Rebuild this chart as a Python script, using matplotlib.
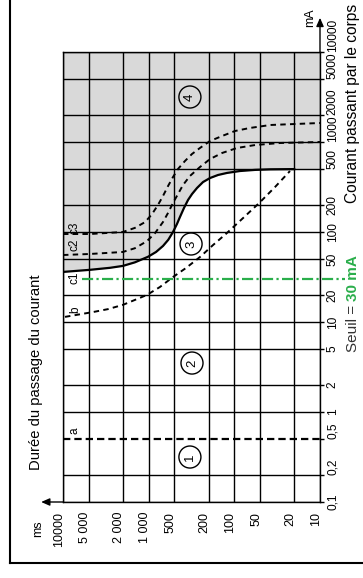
import matplotlib
matplotlib.use('Agg')
import matplotlib.pyplot as plt
from matplotlib.transforms import ScaledTranslation
from matplotlib.lines import Line2D
from matplotlib.ticker import NullLocator

plt.rcParams['font.family'] = ['Liberation Sans', 'DejaVu Sans']

# ---------------- data ----------------
time_ticks = [10000, 5000, 2000, 1000, 500, 200, 100, 50, 20, 10]
time_labels = ['10000', '5 000', '2 000', '1 000', '500', '200', '100', '50', '20', '10']
current_ticks = [0.1, 0.2, 0.5, 1, 2, 5, 10, 20, 50, 100, 200, 500, 1000, 2000, 5000, 10000]
current_labels = ['0,1', '0,2', '0,5', '1', '2', '5', '10', '20', '50', '100', '200',
                  '500', '1000', '2000', '5000', '10000']

a_current = 0.5
b_time = [9475, 4467, 2985, 2000, 1445, 1047, 738, 520, 367, 252, 177, 122, 79, 50, 33.5, 22.4]
b_current = [11.4, 12.9, 13.9, 15.5, 17.6, 20, 24.5, 31.6, 39.8, 52.7, 71.7, 97.5, 143, 215, 316, 476]
c1_time = [10000, 4840, 2830, 2000, 1450, 1020, 820, 680, 590, 520, 467, 431, 387, 347,
           312, 273, 232, 192, 155, 122, 86, 57, 38, 20]
c1_current = [36, 38, 40, 42, 46, 53, 60, 70, 82, 100, 123, 147, 185, 227,
              264, 308, 359, 398, 430, 453, 476, 490, 497, 500]
c2_time = [10000, 4840, 2000, 1450, 1050, 844, 681, 594, 520, 455, 397, 330, 252, 192,
           139, 93, 57, 29, 10]
c2_current = [55.5, 57, 60, 66, 79, 97, 129, 163, 210, 264, 333, 419, 527, 647,
              755, 858, 926, 975, 1000]
c3_time = [10000, 4840, 2000, 1450, 1100, 914, 778, 681, 594, 520, 455, 377, 312, 252,
           192, 139, 98, 66, 38, 10]
c3_current = [95, 95, 100, 111, 129, 158, 200, 251, 324, 408, 501, 615, 736, 858,
              1026, 1166, 1326, 1431, 1545, 1626]
zone4_edge_time = [10]
zone4_edge_current = [500]
threshold = 30  # mA

zone_names = ['1', '2', '3', '4']
zone_time = [330, 312, 320, 330]
zone_current = [0.316, 3.5, 73.6, 3162]

# ---------------- layout ----------------
W, H = 363, 578
def fx(px):
    return px / W
def fy(py):
    return 1 - py / H

green = '#2aae4b'
gray = '#d9d9d9'

fig = plt.figure(figsize=(W / 100, H / 100), dpi=100)
ax = fig.add_axes([fx(63), fy(502), (320 - 63) / W, (502 - 52) / H])
ax.set_xscale('log')
ax.set_yscale('log')
ax.set_xlim(10000, 10)
ax.set_ylim(0.1, 10000)

# shaded zone 4
ax.fill_between(c1_time + zone4_edge_time, c1_current + zone4_edge_current, 10000,
                color=gray, lw=0, zorder=0.5)

# grid
for t in time_ticks:
    ax.axvline(t, color='black', lw=1.0, zorder=1)
for c in current_ticks:
    if c != a_current:
        ax.axhline(c, color='black', lw=1.0, zorder=1)

# curves
ax.axhline(a_current, color='black', lw=1.6, dashes=(3.3, 1.8), zorder=3)
dash_kw = dict(color='black', lw=1.4, dashes=(2.8, 2.2), zorder=3)
ax.plot(b_time, b_current, **dash_kw)
ax.plot(c2_time, c2_current, **dash_kw)
ax.plot(c3_time, c3_current, **dash_kw)
ax.plot(c1_time, c1_current, color='black', lw=1.6, zorder=3)

# threshold line
ax.plot([0.074, 1.097], [threshold, threshold], transform=ax.get_yaxis_transform(),
        color=green, lw=1.6, ls=(0, (5, 1.5, 1, 1.5)), clip_on=False, zorder=4)

# ticks
ax.xaxis.set_minor_locator(NullLocator())
ax.yaxis.set_minor_locator(NullLocator())
ax.set_xticks(time_ticks, time_labels)
ax.set_yticks(current_ticks, current_labels)
ax.yaxis.tick_right()
ax.tick_params(axis='y', direction='out', length=3, width=1, pad=1.8,
               labelsize=8.6, labelrotation=90)
ax.tick_params(axis='x', length=0, pad=7, labelsize=9.0, labelrotation=90)
shift = ScaledTranslation(-4 / 100, 0, fig.dpi_scale_trans)
for lbl in ax.get_xticklabels():
    lbl.set_rotation_mode('anchor')
    lbl.set_ha('right')
    lbl.set_va('center')
    lbl.set_transform(lbl.get_transform() + shift)
start_aligned = {'0,2', '0,5', '500', '1000', '2000', '5000', '10000'}
for lbl, txt in zip(ax.get_yticklabels(), current_labels):
    lbl.set_rotation_mode('anchor')
    lbl.set_ha('left' if txt in start_aligned else 'center')
    lbl.set_va('top')

for sp in ax.spines.values():
    sp.set_color('black')
    sp.set_linewidth(1.0)

# axis arrows
arrow_kw = dict(arrowstyle='-|>,head_length=0.5,head_width=0.22', color='black',
                lw=1.0, shrinkA=0, shrinkB=0)
ax.annotate('', xy=(-0.085, 0), xytext=(0, 0), xycoords='axes fraction',
            arrowprops=arrow_kw, annotation_clip=False)
ax.annotate('', xy=(1, 1.076), xytext=(1, 1), xycoords='axes fraction',
            arrowprops=arrow_kw, annotation_clip=False)

# zone numbers
for name, t, c in zip(zone_names, zone_time, zone_current):
    ax.text(t, c, name, rotation=90, ha='center', va='center', fontsize=9.5, zorder=5,
            bbox=dict(boxstyle='circle,pad=0.38', fc='none', ec='black', lw=1.0))

# curve labels
curve_label_pos = {'a': 431, 'b': 310, 'c1': 278, 'c2': 245, 'c3': 228}
for name, py in curve_label_pos.items():
    ax.text((75 - 63) / 257, (502 - py) / 450, name, transform=ax.transAxes,
            rotation=90, ha='center', va='center', fontsize=8.5, zorder=5)

# axis titles and units
fig.text(fx(38), fy(529), 'ms', rotation=90, ha='center', va='center', fontsize=9)
fig.text(fx(310.5), fy(18), 'mA', rotation=90, ha='center', va='center', fontsize=9)
fig.text(fx(40), fy(470), 'Durée du passage du courant', rotation=90,
         rotation_mode='anchor', ha='left', va='baseline', fontsize=10.6)
fig.text(fx(357), fy(203), 'Courant passant par le corps', rotation=90,
         rotation_mode='anchor', ha='left', va='baseline', fontsize=11.2)
t1 = fig.text(fx(357), fy(352), 'Seuil =', rotation=90, rotation_mode='anchor',
              ha='left', va='baseline', fontsize=11, color='#333333')
fig.canvas.draw()
bb = t1.get_window_extent()
fig.text(fx(357), (bb.y1 + 4) / H, '30 mA', rotation=90, rotation_mode='anchor',
         ha='left', va='baseline', fontsize=11, color=green, fontweight='bold')

# outer frame
fig.add_artist(Line2D([fx(10), fx(10)], [1, fy(563)], transform=fig.transFigure,
                      color='black', lw=1.5))
fig.add_artist(Line2D([fx(10), 1], [fy(563), fy(563)], transform=fig.transFigure,
                      color='black', lw=1.5))

fig.savefig('out.png', dpi=100)
